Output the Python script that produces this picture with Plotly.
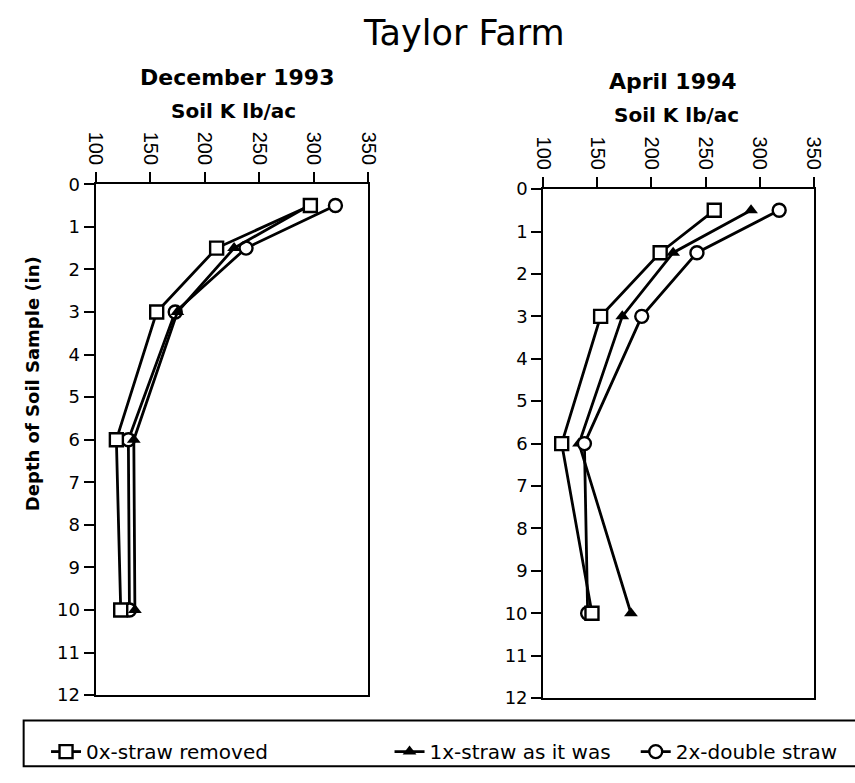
import plotly.graph_objects as go

# Sampling depths (in) and soil K (lb/ac) for each straw treatment
depth = [0.5, 1.5, 3, 6, 10]

dec_0x = [297, 211, 156, 119, 123]
dec_1x = [296, 227, 175, 135, 136]
dec_2x = [320, 238, 173, 130, 131]

apr_0x = [258, 208, 153, 117, 145]
apr_1x = [292, 220, 173, 133, 181]
apr_2x = [318, 242, 191, 138, 141]

series_names = ["0x-straw removed", "1x-straw as it was", "2x-double straw"]
x_ticks = [100, 150, 200, 250, 300, 350]
y_ticks = list(range(0, 13))

W, H = 855, 783
WIDE = "DejaVu Sans, Verdana, sans-serif"
ARIAL = "Liberation Sans, Arial, sans-serif"

marker_styles = [
    dict(symbol="square", size=13, color="white", line=dict(width=2.4, color="black")),
    dict(symbol="triangle-up", size=12, color="black", line=dict(width=0)),
    dict(symbol="circle", size=13, color="white", line=dict(width=2.4, color="black")),
]

fig = go.Figure()

# Draw order per panel (later traces sit on top)
panels = [
    ("x", "y", [dec_0x, dec_1x, dec_2x], [2, 1, 0]),
    ("x2", "y2", [apr_0x, apr_1x, apr_2x], [1, 2, 0]),
]
legend_ids = ["legend", "legend2", "legend3"]
for p, (xa, ya, data, order) in enumerate(panels):
    for i in order:
        fig.add_trace(go.Scatter(
            x=data[i], y=depth, xaxis=xa, yaxis=ya,
            mode="lines+markers",
            name=series_names[i],
            line=dict(color="black", width=2.8),
            marker=marker_styles[i],
            showlegend=(p == 0),
            legend=legend_ids[i],
        ))

axis_common = dict(
    showgrid=False, zeroline=False, showline=True, linecolor="black",
    linewidth=2.2, mirror=True, ticks="outside", tickcolor="black",
    tickwidth=2, ticklen=10,
)
x_font = dict(family=ARIAL, size=20, color="black")
y_font = dict(family=WIDE, size=18, color="black")

fig.update_layout(
    width=W, height=H,
    margin=dict(l=0, r=0, t=0, b=0),
    paper_bgcolor="white", plot_bgcolor="white",
    xaxis=dict(domain=[87 / W, 367 / W], range=[100, 350], side="top",
               tickvals=x_ticks, tickangle=90, anchor="y",
               tickfont=x_font, **axis_common),
    yaxis=dict(domain=[1 - 703 / H, 1 - 178 / H], range=[12, 0],
               tickvals=y_ticks, anchor="x", tickfont=y_font, **axis_common),
    xaxis2=dict(domain=[547 / W, 825 / W], range=[100, 350], side="top",
                tickvals=x_ticks, tickangle=90, anchor="y2",
                tickfont=x_font, **axis_common),
    yaxis2=dict(domain=[1 - 706 / H, 1 - 183 / H], range=[12, 0],
                tickvals=y_ticks, anchor="x2", tickfont=y_font, **axis_common),
)

# One legend per treatment, laid out along the bottom box
leg_x = [36 / W, 389 / W, 642 / W]
for lid, lx in zip(legend_ids, leg_x):
    fig.update_layout({lid: dict(
        x=lx, y=1 - 761 / H, xanchor="left", yanchor="middle",
        orientation="h", bgcolor="rgba(0,0,0,0)", borderwidth=0,
        font=dict(family=WIDE, size=20, color="black"),
        itemwidth=30, tracegroupgap=0,
    )})

fig.add_shape(type="rect", xref="paper", yref="paper",
              x0=13 / W, x1=1.02, y0=1 - 776 / H, y1=1 - 729 / H,
              line=dict(color="black", width=2), fillcolor="rgba(0,0,0,0)")

ann = [
    ("Taylor Farm", 466, 23, 35, False, 0, WIDE),
    ("December 1993", 232, 68, 22, True, 0, WIDE),
    ("Soil K lb/ac", 229, 103, 20, True, 0, WIDE),
    ("April 1994", 680, 72, 22, True, 0, WIDE),
    ("Soil K lb/ac", 684, 107, 20, True, 0, WIDE),
    ("Depth of Soil Sample (in)", 22, 383, 18, True, -90, WIDE),
]
for text, ax, ay, size, bold, angle, fam in ann:
    fig.add_annotation(
        text=f"<b>{text}</b>" if bold else text,
        x=ax / W, y=1 - ay / H, xref="paper", yref="paper",
        xanchor="center", yanchor="middle", showarrow=False,
        textangle=angle,
        font=dict(family=fam, size=size, color="black"),
    )

fig.write_html("out.html")
